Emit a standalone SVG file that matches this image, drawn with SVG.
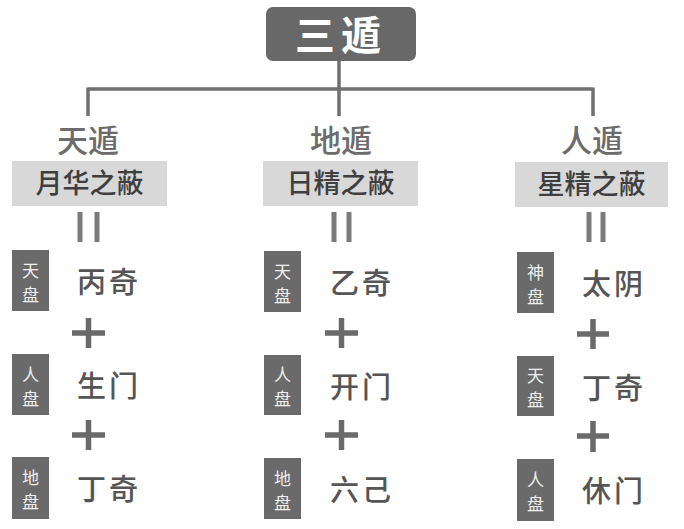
<svg xmlns="http://www.w3.org/2000/svg" width="684" height="529" viewBox="0 0 684 529">
<style>
.line{stroke:#707070;stroke-width:3.5;fill:none}
.dbl{stroke:#7a7a7a;stroke-width:5;fill:none}
.plus{stroke:#6a6a6a;stroke-width:5.5;fill:none}
.hdr{font-family:"Noto Sans CJK SC","Noto Sans CJK JP",sans-serif;font-size:31px;fill:#6c6c6c;text-anchor:middle;font-weight:500}
.gbox{fill:#d8d8d8}
.gtxt{font-family:"Noto Sans CJK SC","Noto Sans CJK JP",sans-serif;font-size:27px;fill:#3e3e3e;text-anchor:middle;font-weight:500}
.dbox{fill:#6a6a6a}
.dtxt{font-family:"Noto Sans CJK SC","Noto Sans CJK JP",sans-serif;font-size:17px;fill:#f0f0f0;text-anchor:middle}
.ctxt{font-family:"Noto Sans CJK SC","Noto Sans CJK JP",sans-serif;font-size:29px;fill:#555;text-anchor:middle;font-weight:500;letter-spacing:3px}
</style>
<rect width="684" height="529" fill="#ffffff"/>
<g id="connectors">
<path class="line" d="M339,61 V89 M88,89 H593 M88,87.5 V116 M339,89 V116 M593,87.5 V116"/>
<path class="dbl" d="M80,212 V242 M97,212 V242 M334,212 V242 M349,212 V242 M589,212 V242 M603,212 V242"/>
<path class="plus" d="M72,333 H105 M88.5,318 V348 M72,435 H105 M88.5,420 V450 M325,333 H358 M341.5,318 V348 M325,435 H358 M341.5,420 V450 M577,334 H609 M593,319 V349 M577,436 H609 M593,421 V452"/>
</g>
<g id="root">
<rect x="266" y="7" width="150" height="54" rx="7" fill="#686868"/>
<text x="341" y="50" font-family="'Noto Sans CJK SC',sans-serif" font-size="40" font-weight="700" fill="#ffffff" text-anchor="middle" letter-spacing="6">三遁</text>
</g>
<g id="tian">
<text class="hdr" x="88" y="152">天遁</text>
<rect class="gbox" x="12" y="161" width="155" height="45"/>
<text class="gtxt" x="89.5" y="193">月华之蔽</text>
</g>
<g id="di">
<text class="hdr" x="341" y="152">地遁</text>
<rect class="gbox" x="263" y="161" width="155" height="45"/>
<text class="gtxt" x="340.5" y="193">日精之蔽</text>
</g>
<g id="ren">
<text class="hdr" x="592" y="152">人遁</text>
<rect class="gbox" x="515" y="162" width="153" height="45"/>
<text class="gtxt" x="591.5" y="194">星精之蔽</text>
</g>
<g id="tian-tianpan">
<rect class="dbox" x="12" y="250" width="37" height="61"/>
<text class="dtxt" x="30.5" y="277">天</text><text class="dtxt" x="30.5" y="301">盘</text>
<text class="ctxt" x="109" y="293">丙奇</text>
</g>
<g id="tian-renpan">
<rect class="dbox" x="12" y="354" width="37" height="61"/>
<text class="dtxt" x="30.5" y="381">人</text><text class="dtxt" x="30.5" y="405">盘</text>
<text class="ctxt" x="109" y="397">生门</text>
</g>
<g id="tian-dipan">
<rect class="dbox" x="12" y="457" width="37" height="62"/>
<text class="dtxt" x="30.5" y="484">地</text><text class="dtxt" x="30.5" y="508">盘</text>
<text class="ctxt" x="109" y="500">丁奇</text>
</g>
<g id="di-tianpan">
<rect class="dbox" x="264" y="251" width="37" height="61"/>
<text class="dtxt" x="282.5" y="278">天</text><text class="dtxt" x="282.5" y="302">盘</text>
<text class="ctxt" x="362" y="294">乙奇</text>
</g>
<g id="di-renpan">
<rect class="dbox" x="264" y="355" width="37" height="60"/>
<text class="dtxt" x="282.5" y="381">人</text><text class="dtxt" x="282.5" y="405">盘</text>
<text class="ctxt" x="362" y="398">开门</text>
</g>
<g id="di-dipan">
<rect class="dbox" x="264" y="458" width="37" height="61"/>
<text class="dtxt" x="282.5" y="485">地</text><text class="dtxt" x="282.5" y="509">盘</text>
<text class="ctxt" x="362" y="501">六己</text>
</g>
<g id="ren-shenpan">
<rect class="dbox" x="517" y="252" width="37" height="61"/>
<text class="dtxt" x="535.5" y="279">神</text><text class="dtxt" x="535.5" y="303">盘</text>
<text class="ctxt" x="614" y="295">太阴</text>
</g>
<g id="ren-tianpan">
<rect class="dbox" x="517" y="356" width="37" height="60"/>
<text class="dtxt" x="535.5" y="382">天</text><text class="dtxt" x="535.5" y="406">盘</text>
<text class="ctxt" x="614" y="399">丁奇</text>
</g>
<g id="ren-renpan">
<rect class="dbox" x="517" y="459" width="37" height="62"/>
<text class="dtxt" x="535.5" y="486">人</text><text class="dtxt" x="535.5" y="510">盘</text>
<text class="ctxt" x="614" y="502">休门</text>
</g>
</svg>
